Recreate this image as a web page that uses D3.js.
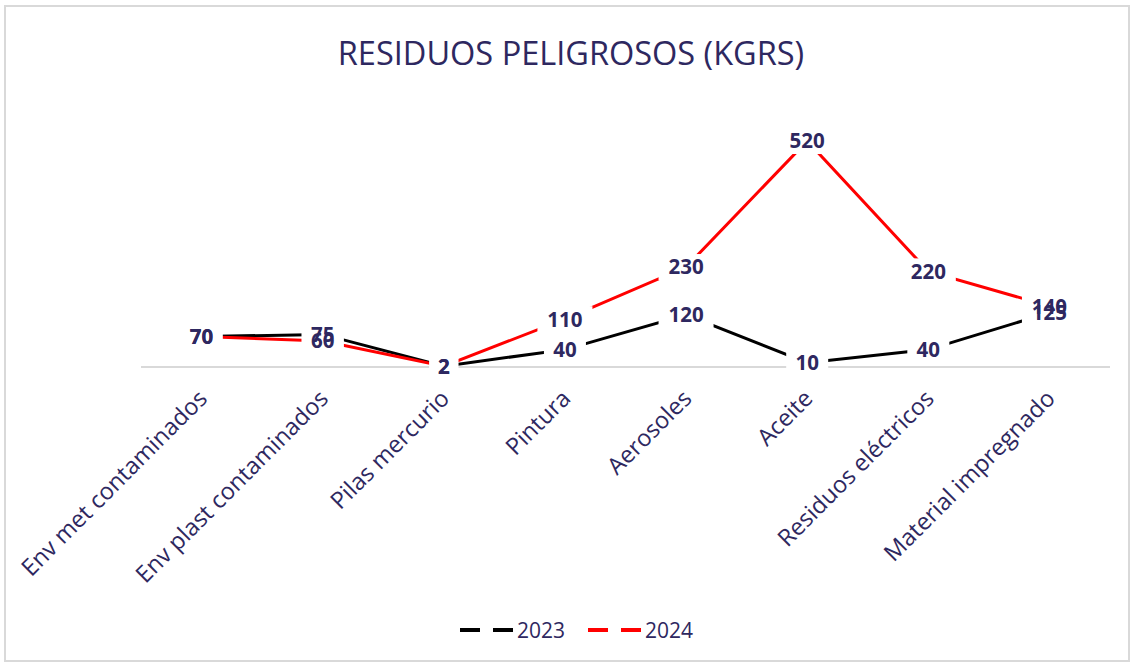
<!DOCTYPE html>
<html lang="es">
<head>
<meta charset="utf-8">
<title>Residuos peligrosos</title>
<script src="https://d3js.org/d3.v7.min.js"></script>
<style>
  body { margin:0; background:#fff; }
  svg text { font-family: "Open Sans", "Noto Sans", sans-serif; fill:#2e2860; }
</style>
</head>
<body>
<svg id="chart"></svg>
<script>
var categories = ["Env met contaminados","Env plast contaminados","Pilas mercurio","Pintura","Aerosoles","Aceite","Residuos eléctricos","Material impregnado"];
var values2023 = [70, 75, 2, 40, 120, 10, 40, 125];
var values2024 = [70, 60, 2, 110, 230, 520, 220, 140];
var seriesNames = ["2023", "2024"];
var seriesColors = ["#000000", "#ff0000"];

var W = 1132, H = 664;
var margin = {left:141, right:22};

var svg = d3.select("#chart").attr("width", W).attr("height", H);

// chart border
svg.append("rect")
  .attr("x", 5).attr("y", 6).attr("width", W - 8).attr("height", H - 9)
  .attr("fill", "none").attr("stroke", "#d9d9d9").attr("stroke-width", 2);

svg.append("text")
  .attr("x", 571).attr("y", 65)
  .attr("text-anchor", "middle")
  .attr("font-size", 32.5)
  .text("RESIDUOS PELIGROSOS (KGRS)");

var x = d3.scaleBand().domain(categories).range([margin.left, W - margin.right]);
var y = d3.scaleLinear().domain([0, 520]).range([367, 141]);

// baseline
svg.append("line")
  .attr("x1", margin.left).attr("x2", W - margin.right)
  .attr("y1", y(0)).attr("y2", y(0))
  .attr("stroke", "#d9d9d9").attr("stroke-width", 2);

// category labels
svg.append("g").selectAll("text")
  .data(categories)
  .enter().append("text")
  .attr("transform", d => "translate(" + (x(d) + x.bandwidth()/2 + 7) + "," + (y(0) + 33) + ") rotate(-45)")
  .attr("text-anchor", "end")
  .attr("font-size", 23.5)
  .text(d => d);

var series = [values2023, values2024];
var line = d3.line()
  .x((d, i) => x(categories[i]) + x.bandwidth()/2)
  .y(d => y(d));

series.forEach(function(vals, s){
  svg.append("path")
    .datum(vals)
    .attr("d", line)
    .attr("fill", "none")
    .attr("stroke", seriesColors[s])
    .attr("stroke-width", 3);
});

// value labels: white boxes first, then all texts on top
var labelData = [];
series.forEach(function(vals, s){
  vals.forEach(function(v, i){ labelData.push({v: v, i: i}); });
});
var px = d => x(categories[d.i]) + x.bandwidth()/2;

svg.append("g").selectAll("rect")
  .data(labelData)
  .enter().append("rect")
  .attr("x", d => px(d) - String(d.v).length*6.5 - 8)
  .attr("y", d => y(d.v) - 13)
  .attr("width", d => String(d.v).length*13 + 16)
  .attr("height", 26)
  .attr("fill", "#fff");

svg.append("g").selectAll("text")
  .data(labelData)
  .enter().append("text")
  .attr("x", px)
  .attr("y", d => y(d.v))
  .attr("text-anchor", "middle")
  .attr("dy", "0.36em")
  .attr("font-size", 20.5)
  .attr("font-weight", "bold")
  .text(d => d.v);

// legend
var legend = svg.append("g");
seriesNames.forEach(function(name, i){
  var lx = 460 + i*128;
  legend.append("line")
    .attr("x1", lx).attr("x2", lx + 53)
    .attr("y1", 630).attr("y2", 630)
    .attr("stroke", seriesColors[i]).attr("stroke-width", 4)
    .attr("stroke-dasharray", "20,13");
  legend.append("text")
    .attr("x", lx + 57).attr("y", 638)
    .attr("font-size", 21)
    .text(name);
});
</script>
</body>
</html>
